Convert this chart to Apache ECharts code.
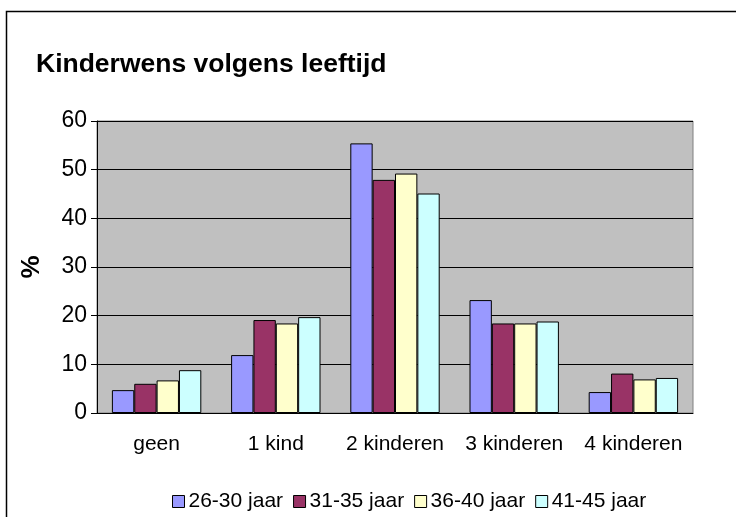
<!DOCTYPE html>
<html lang="nl">
<head>
    <meta charset="UTF-8">
    <title>Kinderwens volgens leeftijd</title>
    <script src="https://cdn.jsdelivr.net/npm/echarts@6/dist/echarts.min.js"></script>
    <style>
        html, body { margin: 0; padding: 0; background: #fff; }
        #chart { width: 736px; height: 517px; }
    </style>
</head>
<body>
<div id="chart"></div>
<script>
    // data
    var categories = ['geen', '1 kind', '2 kinderen', '3 kinderen', '4 kinderen'];
    var seriesNames = ['26-30 jaar', '31-35 jaar', '36-40 jaar', '41-45 jaar'];
    var jaar26_30 = [4.7, 11.9, 55.4, 23.2, 4.3];
    var jaar31_35 = [6.0, 19.1, 47.9, 18.4, 8.1];
    var jaar36_40 = [6.7, 18.4, 49.2, 18.4, 6.9];
    var jaar41_45 = [8.8, 19.7, 45.1, 18.8, 7.2];
    var colors = ['#9999FF', '#993366', '#FFFFCC', '#CCFFFF'];

    var values = [jaar26_30, jaar31_35, jaar36_40, jaar41_45];
    var font = 'Liberation Sans, Arial, sans-serif';

    var chart = echarts.init(document.getElementById('chart'));
    var series = [];
    for (var i = 0; i < seriesNames.length; i++) {
        series.push({
            name: seriesNames[i],
            type: 'bar',
            data: values[i],
            barGap: 0,
            barCategoryGap: '25%',
            itemStyle: { color: colors[i], borderColor: '#000', borderWidth: 1 }
        });
    }

    chart.setOption({
        animation: false,
        color: colors,
        title: {
            text: 'Kinderwens volgens leeftijd',
            left: 31, top: 46,
            textStyle: { fontFamily: font, fontSize: 26.5, fontWeight: 'bold', color: '#000' }
        },
        // outer chart border like the spreadsheet frame
        graphic: [{
            type: 'rect',
            shape: { x: 6.5, y: 11.5, width: 800, height: 600 },
            style: { fill: 'none', stroke: '#000', lineWidth: 1.5 },
            silent: true
        }],
        legend: {
            left: 167, top: 486,
            itemWidth: 12, itemHeight: 12, itemGap: 10,
            icon: 'rect',
            itemStyle: { borderColor: '#000', borderWidth: 1 },
            textStyle: { fontFamily: font, fontSize: 21, color: '#000', padding: [0, 0, 0, -1] },
            data: seriesNames
        },
        grid: {
            left: 97, right: 43, top: 121, bottom: 104,
            show: true,
            backgroundColor: '#C0C0C0',
            borderColor: '#808080',
            borderWidth: 1
        },
        xAxis: {
            type: 'category',
            data: categories,
            axisLine: { lineStyle: { color: '#000', width: 1 } },
            axisTick: { length: 6, lineStyle: { color: '#666' } },
            axisLabel: { interval: 0, hideOverlap: false, fontFamily: font, fontSize: 21, color: '#000', margin: 21 }
        },
        yAxis: {
            type: 'value',
            min: 0, max: 60, interval: 10,
            name: '%',
            nameLocation: 'middle',
            nameRotate: 90,
            nameGap: 52,
            nameTextStyle: { fontFamily: font, fontSize: 26, fontWeight: 'bold', color: '#000' },
            axisLine: { show: true, lineStyle: { color: '#000', width: 1 } },
            axisTick: { show: true, length: 6, lineStyle: { color: '#000' } },
            axisLabel: { fontFamily: font, fontSize: 23, color: '#000', margin: 10 },
            splitLine: { lineStyle: { color: '#000', width: 1 } }
        },
        series: series
    });
</script>
</body>
</html>
